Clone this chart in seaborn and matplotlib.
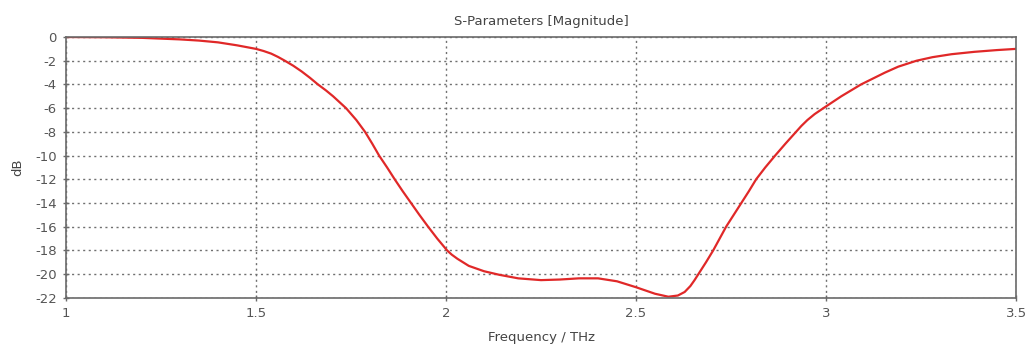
import matplotlib
matplotlib.use("Agg")
import matplotlib.pyplot as plt
import seaborn as sns
import pandas as pd

# S11 magnitude sweep (THz, dB)
freq_thz = [1.0, 1.1, 1.2, 1.3, 1.35, 1.4, 1.45, 1.5, 1.52, 1.54, 1.558,
            1.576, 1.598, 1.62, 1.642, 1.663, 1.684, 1.703, 1.72, 1.737,
            1.764, 1.787, 1.806, 1.824, 1.845, 1.865, 1.886, 1.908, 1.93,
            1.953, 1.977, 2.003, 2.015, 2.03, 2.06, 2.1, 2.14, 2.19, 2.25,
            2.3, 2.35, 2.4, 2.45, 2.5, 2.55, 2.585, 2.61, 2.628, 2.643,
            2.654, 2.664, 2.684, 2.703, 2.72, 2.737, 2.757, 2.777, 2.797,
            2.816, 2.84, 2.866, 2.893, 2.921, 2.935, 2.951, 2.97, 2.993,
            3.04, 3.092, 3.155, 3.19, 3.238, 3.28, 3.33, 3.39, 3.45, 3.5]
mag_db = [0.0, -0.02, -0.07, -0.2, -0.3, -0.45, -0.7, -1.0, -1.18, -1.4,
          -1.68, -2.0, -2.42, -2.9, -3.44, -4.0, -4.5, -5.0, -5.5, -6.0,
          -7.0, -8.0, -9.0, -10.0, -11.0, -12.0, -13.0, -14.0, -15.0, -16.0,
          -17.0, -18.0, -18.35, -18.7, -19.3, -19.75, -20.05, -20.35, -20.5,
          -20.45, -20.35, -20.35, -20.6, -21.1, -21.65, -21.9, -21.8, -21.5,
          -21.0, -20.5, -20.0, -19.0, -18.0, -17.0, -16.0, -15.0, -14.0,
          -13.0, -12.0, -11.0, -10.0, -9.0, -8.0, -7.5, -7.0, -6.5, -6.0,
          -5.0, -4.0, -3.0, -2.5, -2.0, -1.7, -1.45, -1.25, -1.1, -1.0]

x_ticks = [1, 1.5, 2, 2.5, 3, 3.5]
x_tick_labels = ["1", "1.5", "2", "2.5", "3", "3.5"]
y_ticks = list(range(0, -24, -2))

df = pd.DataFrame({"Frequency": freq_thz, "dB": mag_db})

sns.set_theme(style="white")
plt.rcParams["font.family"] = ["DejaVu Sans"]

fig = plt.figure(figsize=(10.31, 3.46), dpi=100)
ax = fig.add_axes([0.064, 0.139, 0.9215, 0.754])

sns.lineplot(data=df, x="Frequency", y="dB", ax=ax, color="#e02828",
             linewidth=1.6)

ax.set_xlim(1, 3.5)
ax.set_ylim(-22, 0)
ax.set_xticks(x_ticks)
ax.set_xticklabels(x_tick_labels)
ax.set_yticks(y_ticks)
ax.set_yticklabels([str(v) for v in y_ticks])

ax.grid(True, which="major", linestyle=(0, (1.5, 2.5)), color="#707070",
        linewidth=1.0)
ax.set_axisbelow(True)

for side in ["left", "bottom", "right", "top"]:
    ax.spines[side].set_visible(True)
    ax.spines[side].set_color("#6a6a6a")
    ax.spines[side].set_linewidth(1.2)

ax.tick_params(axis="both", which="major", direction="inout", length=5,
               width=1, color="#6a6a6a", labelsize=9.5, labelcolor="#555555",
               pad=4, bottom=True, left=True)

ax.set_title("S-Parameters [Magnitude]", fontsize=9.5, color="#444444",
             pad=9)
ax.set_xlabel("Frequency / THz", fontsize=9.5, color="#444444", labelpad=8)
ax.set_ylabel("dB", fontsize=9.5, color="#444444", labelpad=8)

fig.savefig("out.png", dpi=100, facecolor="white")
